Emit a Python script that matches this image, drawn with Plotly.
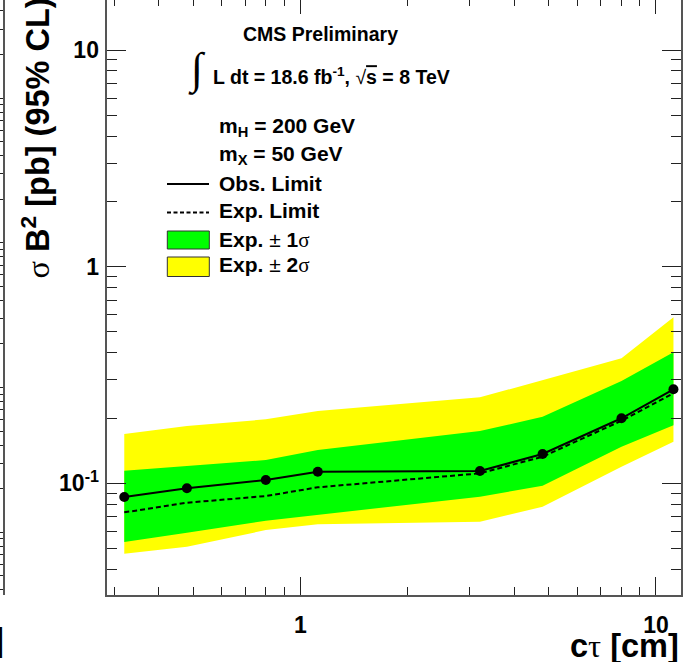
import plotly.graph_objects as go
import math

# ---------------- data ----------------
ctau = [0.32, 0.48, 0.80, 1.12, 3.2, 4.8, 8.0, 11.2]
obs_limit = [0.0864, 0.0948, 0.1035, 0.1130, 0.1139, 0.1365, 0.1995, 0.2715]
exp_limit = [0.0734, 0.0813, 0.0873, 0.0958, 0.1111, 0.1326, 0.1944, 0.2602]
exp_1s_up = [0.1142, 0.1205, 0.1280, 0.1423, 0.1742, 0.2028, 0.2965, 0.4022]
exp_1s_dn = [0.0536, 0.0591, 0.0672, 0.0714, 0.0867, 0.0974, 0.1475, 0.1851]
exp_2s_up = [0.1688, 0.1837, 0.1973, 0.2156, 0.2492, 0.2996, 0.3773, 0.5834]
exp_2s_dn = [0.0473, 0.0509, 0.0608, 0.0646, 0.0665, 0.0779, 0.1192, 0.1555]

x_tick_vals = [1, 10]
x_tick_text = ["1", "10"]
y_tick_vals = [0.1, 1, 10]
y_tick_text = ["10<sup>-1</sup>", "1", "10"]
x_minor_vals = [0.3, 0.4, 0.5, 0.6, 0.7, 0.8, 0.9, 2, 3, 4, 5, 6, 7, 8, 9]
y_minor_vals = [m * d for d in (0.01, 0.1, 1) for m in range(2, 10)]
nb_major = [0.01, 0.1, 1, 10]
nb_minor = [m * d for d in (0.001, 0.01, 0.1, 1, 10) for m in range(2, 10)]

# ---------------- geometry ----------------
W, H = 687, 662
ML, MR, MT, MB = 0, 6, 0, 67
PW, PH = W - ML - MR, H - MT - MB
AX_LEFT = 107.3

def px(x):
    return x / PW

def py(y):
    return (PH - y) / PH

FONT = "Liberation Sans"
SERIF = "Liberation Serif"

fig = go.Figure()

# bands
fig.add_trace(go.Scatter(
    x=ctau + ctau[::-1], y=exp_2s_up + exp_2s_dn[::-1],
    fill="toself", fillcolor="#ffff00", line=dict(width=0),
    mode="lines", showlegend=False, hoverinfo="skip"))
fig.add_trace(go.Scatter(
    x=ctau + ctau[::-1], y=exp_1s_up + exp_1s_dn[::-1],
    fill="toself", fillcolor="#00ff00", line=dict(width=0),
    mode="lines", showlegend=False, hoverinfo="skip"))
# expected
fig.add_trace(go.Scatter(
    x=ctau, y=exp_limit, mode="lines",
    line=dict(color="black", width=2, dash="5px,3px"), showlegend=False))
# observed
fig.add_trace(go.Scatter(
    x=ctau, y=obs_limit, mode="lines+markers",
    line=dict(color="black", width=2),
    marker=dict(color="black", size=10), showlegend=False))
# invisible helpers so the extra axes get drawn
fig.add_trace(go.Scatter(x=ctau[:1], y=obs_limit[:1], xaxis="x2", yaxis="y",
                         mode="markers", marker=dict(opacity=0),
                         showlegend=False, hoverinfo="skip"))
fig.add_trace(go.Scatter(x=ctau[:1], y=obs_limit[:1], xaxis="x", yaxis="y2",
                         mode="markers", marker=dict(opacity=0),
                         showlegend=False, hoverinfo="skip"))

xr = [math.log10(0.2867), math.log10(11.76)]
yr = [-1.5158, 1.2308]
AXC = "#555555"
TKC = "#222222"
tickfont = dict(family=FONT, size=23, color="black", weight="bold")

fig.update_layout(
    width=W, height=H,
    margin=dict(l=ML, r=MR, t=MT, b=MB, pad=0, autoexpand=False),
    paper_bgcolor="white", plot_bgcolor="white",
    xaxis=dict(type="log", range=xr, domain=[AX_LEFT / PW, 1], automargin=False,
               showline=True, linecolor=AXC, linewidth=1.5, mirror=False,
               showgrid=False, zeroline=False,
               ticks="inside", ticklen=18, tickwidth=1, tickcolor=TKC,
               tickmode="array", tickvals=x_tick_vals, ticktext=x_tick_text,
               tickfont=tickfont, ticklabelstandoff=9,
               minor=dict(ticks="inside", ticklen=8, tickwidth=1, tickcolor=TKC,
                          tickmode="array", tickvals=x_minor_vals, showgrid=False)),
    xaxis2=dict(type="log", range=xr, overlaying="x", side="top", anchor="y",
                automargin=False,
                showline=False, showgrid=False, zeroline=False,
                showticklabels=False,
                ticks="inside", ticklen=14, tickwidth=1, tickcolor=TKC,
                tickmode="array", tickvals=x_tick_vals,
                minor=dict(ticks="inside", ticklen=6, tickwidth=1, tickcolor=TKC,
                           tickmode="array", tickvals=x_minor_vals, showgrid=False)),
    yaxis=dict(type="log", range=yr, domain=[0, 1], automargin=False,
               showline=True, linecolor=AXC, linewidth=1.5, mirror="ticks",
               showgrid=False, zeroline=False,
               ticks="inside", ticklen=19, tickwidth=1, tickcolor=TKC,
               tickmode="array", tickvals=y_tick_vals, ticktext=y_tick_text,
               tickfont=tickfont, ticklabelstandoff=2,
               minor=dict(ticks="inside", ticklen=10, tickwidth=1, tickcolor=TKC,
                          tickmode="array", tickvals=y_minor_vals, showgrid=False)),
    yaxis2=dict(type="log", range=[-2.434, 1.678], overlaying="y", anchor="free",
                position=3.5 / PW, side="left", automargin=False,
                showline=True, linecolor=AXC, linewidth=1.5,
                showgrid=False, zeroline=False, showticklabels=False,
                ticks="outside", ticklen=10, tickwidth=1, tickcolor=TKC,
                tickmode="array", tickvals=nb_major,
                minor=dict(ticks="outside", ticklen=6, tickwidth=1, tickcolor=TKC,
                           tickmode="array", tickvals=nb_minor, showgrid=False)),
    showlegend=False,
)

def ann(text, x, y, size, xanchor="left", yanchor="middle", angle=0, family=FONT):
    fig.add_annotation(text=text, x=px(x), y=py(y), xref="paper", yref="paper",
                       xanchor=xanchor, yanchor=yanchor, textangle=angle,
                       showarrow=False, font=dict(family=family, size=size, color="black"))

sig = f"<span style='font-family:{SERIF}'>σ</span>"
tau = f"<span style='font-family:{SERIF}'>τ</span>"

ann("<b>CMS Preliminary</b>", 320, 33.5, 19.5, xanchor="center")
ann("∫", 197, 69, 44, xanchor="center", family=SERIF)
ann("<b>L dt = 18.6 fb<sup>-1</sup>, </b>√<b><span style='text-decoration:overline'>s</span> = 8 TeV</b>",
    211, 76, 19.5)
ann("<b>m<sub>H</sub> = 200 GeV</b>", 217, 127, 21)
ann("<b>m<sub>X</sub> = 50 GeV</b>", 217, 155, 21)
ann("<b>Obs. Limit</b>", 217, 183.5, 21)
ann("<b>Exp. Limit</b>", 217, 211, 21)
ann(f"<b>Exp. </b>± <b>1</b>{sig}", 217, 239.5, 21)
ann(f"<b>Exp. </b>± <b>2</b>{sig}", 217, 265, 21)

# axis titles (ROOT style: right/top aligned)
ann(f"{sig} <b>B<sup>2</sup> [pb] (95% CL)</b>", 35, 281, 32.5,
    xanchor="center", yanchor="bottom", angle=-90)
ann(f"<b>c</b>{tau} <b>[cm]</b>", 681, 646, 32.5, xanchor="right")
# edge of neighbouring panel's axis title
ann("<b>]</b>", 5.5, 640, 32.5, xanchor="right")

# legend keys
def pline(x0, x1, y, dash=None):
    fig.add_shape(type="line", xref="paper", yref="paper",
                  x0=px(x0), x1=px(x1), y0=py(y), y1=py(y),
                  line=dict(color="black", width=2, dash=dash))

def pbox(x0, x1, y0, y1, color):
    fig.add_shape(type="rect", xref="paper", yref="paper",
                  x0=px(x0), x1=px(x1), y0=py(y1), y1=py(y0),
                  fillcolor=color, line=dict(color="#333333", width=1))

pline(167, 209, 184)
pline(167, 209, 212.5, dash="4px,2.5px")
pbox(167.3, 209.3, 231, 249, "#00ff00")
pbox(167.3, 209.3, 257, 276.5, "#ffff00")

fig.write_html("out.html", config={"displayModeBar": False},
               post_script="document.body.style.margin='0';document.body.style.overflow='hidden';")
